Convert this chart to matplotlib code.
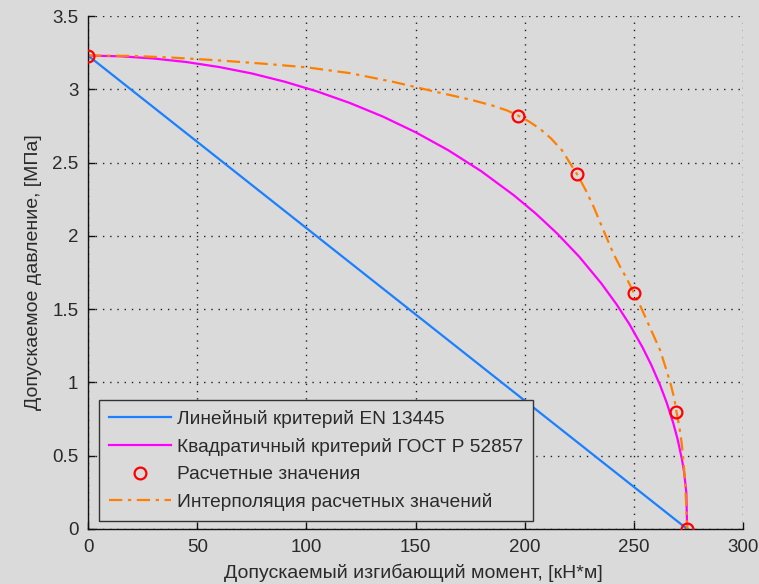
import matplotlib
matplotlib.use("Agg")
import matplotlib.pyplot as plt

# linear criterion EN 13445
lin_x = [0, 274.4]
lin_y = [3.23, 0.0]

# quadratic criterion GOST R 52857
quad_x = [0, 15, 30, 45, 60, 75, 90, 105, 120, 135, 150, 165, 180, 195, 205, 215, 225, 235,
          242, 248, 254, 258, 262, 265, 268, 270, 272, 273, 274, 274.4]
quad_y = [3.23, 3.225, 3.21, 3.186, 3.152, 3.108, 3.052, 2.985, 2.906, 2.814, 2.707, 2.584,
          2.442, 2.277, 2.153, 2.014, 1.857, 1.677, 1.534, 1.396, 1.238, 1.118, 0.981, 0.863,
          0.724, 0.613, 0.476, 0.389, 0.25, 0.0]

# calculated points
calc_x = [0, 197, 224, 250, 269.5, 274.4]
calc_y = [3.23, 2.82, 2.42, 1.61, 0.80, 0.0]

# interpolation of calculated points
interp_x = [0, 20, 40, 60, 80, 100, 120, 140, 160, 175, 185, 192, 197, 202, 207, 212, 217, 221,
            224, 228, 231.5, 236, 240.6, 244, 246.7, 250, 253, 256, 259, 262, 265, 267, 268.5,
            269.5, 270.8, 271.9, 272.8, 273.5, 274, 274.4]
interp_y = [3.23, 3.228, 3.215, 3.197, 3.175, 3.15, 3.11, 3.05, 2.98, 2.93, 2.89, 2.855, 2.82,
            2.78, 2.73, 2.665, 2.585, 2.49, 2.42, 2.31, 2.20, 2.04, 1.88, 1.78, 1.71, 1.61, 1.52,
            1.42, 1.32, 1.22, 1.08, 0.98, 0.89, 0.80, 0.70, 0.585, 0.45, 0.30, 0.15, 0.0]

labels = ["Линейный критерий EN 13445",
          "Квадратичный критерий ГОСТ Р 52857",
          "Расчетные значения",
          "Интерполяция расчетных значений"]

plt.rcParams['font.family'] = ['Liberation Sans', 'DejaVu Sans']
bg = '#dadada'
txt = '#2a2a2a'

fig = plt.figure(figsize=(7.59, 5.84), dpi=100, facecolor=bg)
ax = fig.add_axes([0.116, 0.0942, 0.863, 0.8784])
ax.set_facecolor(bg)

ax.plot(lin_x, lin_y, color='#1a80ff', lw=1.6, label=labels[0])
ax.plot(quad_x, quad_y, color='#ff00ff', lw=1.6, label=labels[1])
ax.plot(calc_x, calc_y, 'o', mfc='none', mec='#ff0000', ms=8.5, mew=1.6, label=labels[2], zorder=5)
ax.plot(interp_x, interp_y, color='#ff8000', lw=1.6, dashes=(6, 2.5, 1.5, 2.5), label=labels[3])

ax.set_xlim(0, 300)
ax.set_ylim(0, 3.5)
ax.set_xticks([0, 50, 100, 150, 200, 250, 300])
ax.set_yticks([0, 0.5, 1, 1.5, 2, 2.5, 3, 3.5])
ax.set_yticklabels(['0', '0.5', '1', '1.5', '2', '2.5', '3', '3.5'])
ax.grid(True, color='#222222', linestyle=(0, (1, 4.2)), lw=1.0)
ax.set_axisbelow(True)

for s in ['top', 'right']:
    ax.spines[s].set_visible(False)
for s in ['left', 'bottom']:
    ax.spines[s].set_color('#111111')
    ax.spines[s].set_linewidth(1.0)

ax.tick_params(direction='in', length=5, width=1, colors='#111111', labelcolor=txt,
               labelsize=13.5, pad=7)

ax.set_xlabel('Допускаемый изгибающий момент, [кН*м]', fontsize=14, color=txt, labelpad=3)
ax.xaxis.set_label_coords(0.497, -0.068)
ax.set_ylabel('Допускаемое давление, [МПа]', fontsize=14, color=txt, labelpad=7)

leg = ax.legend(loc='lower left', bbox_to_anchor=(0.017, 0.016), borderaxespad=0,
                fontsize=13.8, fancybox=False, framealpha=1, facecolor=bg,
                edgecolor='#333333', handlelength=3.25, labelspacing=0.52,
                borderpad=0.5, handletextpad=0.3)
leg.get_frame().set_linewidth(1.0)
for t in leg.get_texts():
    t.set_color(txt)

fig.savefig('out.png', dpi=100, facecolor=bg)
